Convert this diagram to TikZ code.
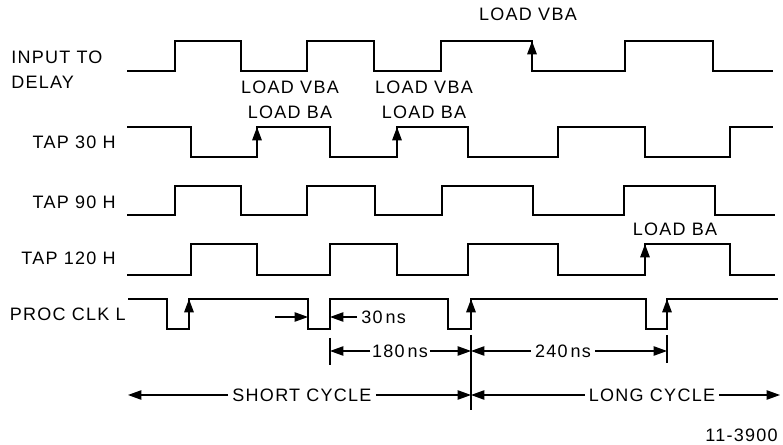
\documentclass[tikz,border=0pt]{standalone}
\usepackage{fontspec}
\setmainfont{Liberation Sans}[LetterSpace=7]
\usepackage{tikz}
\usetikzlibrary{arrows.meta, positioning}
\tikzstyle{signal} = [line width=1.4pt, line join=miter]
\tikzstyle{siglabel} = [anchor=east, inner sep=0pt, font=\fontsize{13.5}{18.75}\selectfont]
\tikzstyle{note} = [inner sep=3pt, font=\fontsize{13.5}{15}\selectfont]
\tikzstyle{edge} = [line width=1.4pt, -{Triangle[length=10pt, width=7pt]}]
\tikzstyle{dim} = [line width=0.9pt, -{Triangle[length=10pt, width=7pt]}]
\tikzstyle{tick} = [line width=0.9pt]

\begin{document}
\begin{tikzpicture}[x=0.75pt, y=-0.75pt]
\useasboundingbox (0,0) rectangle (783,445);

\node (input) [siglabel, anchor=west, align=left] at (11,70) {INPUT TO\\DELAY};
\node (tap30) [siglabel] at (116,142) {TAP 30 H};
\node (tap90) [siglabel] at (116,202) {TAP 90 H};
\node (tap120) [siglabel] at (116,258) {TAP 120 H};
\node (clk) [siglabel] at (126,314) {PROC CLK L};

\draw [signal] (127,71) -| (175,41) -| (241,71) -| (307,41) -| (374,71) -| (441,41) -| (532,71) -| (625,41) -| (713,71) -- (773,71);
\draw [signal] (127,127) -| (191,157) -| (257,127) -| (330,157) -| (397,127) -| (468,157) -| (558,127) -| (645,157) -| (730,127) -- (773,127);
\draw [signal] (127,215) -| (175,186) -| (241,215) -| (307,186) -| (375,215) -| (442,186) -| (533,215) -| (624,186) -| (715,215) -- (775,215);
\draw [signal] (127,275) -| (191,244) -| (257,275) -| (330,244) -| (397,275) -| (468,244) -| (558,275) -| (645,244) -| (730,275) -- (775,275);
\draw [signal] (128,299) -| (167,329) -| (189,299) -| (308,329) -| (330,299) -| (448,329) -| (471,299) -| (646,329) -| (667,299) -- (778,299);

\draw [edge] (532,71) -- (532,41);
\draw [edge] (257,157) -- (257,127);
\draw [edge] (397,157) -- (397,127);
\draw [edge] (645,275) -- (645,244);
\draw [edge] (189,329) -- (189,299);
\draw [edge] (471,329) -- (471,299);
\draw [edge] (667,329) -- (667,299);

\node (ldvba) [note] at (528,14) {LOAD VBA};
\node (ld1) [note, align=center, font=\fontsize{13.5}{18.75}\selectfont] at (290,100) {LOAD VBA\\LOAD BA};
\node (ld2) [note, align=center, font=\fontsize{13.5}{18.75}\selectfont] at (424,100) {LOAD VBA\\LOAD BA};
\node (ldba) [note] at (675,229) {LOAD BA};

\coordinate (fall) at (308,317);
\coordinate (rise) at (330,317);
\coordinate (pre) at (275,317);
\node (ns30) [note, anchor=west] at (357,317) {30\,ns};
\draw [dim] (pre) -- (fall);
\draw [dim] (ns30.west) -- (rise);

\draw [tick] (330,338) -- (330,365);
\draw [tick] (471,335) -- (471,410);
\draw [tick] (667,335) -- (667,363);

\node (ns180) [note, inner sep=1pt] at (400,351) {180\,ns};
\draw [dim] (ns180.west) -- (330,351);
\draw [dim] (ns180.east) -- (471,351);
\node (ns240) [note] at (563,351) {240\,ns};
\draw [dim] (ns240.west) -- (471,351);
\draw [dim] (ns240.east) -- (667,351);

\node (short) [note] at (302,395) {SHORT CYCLE};
\draw [dim] (short.west) -- (128,395);
\draw [dim] (short.east) -- (471,395);
\node (long) [note] at (652,395) {LONG CYCLE};
\draw [dim] (long.west) -- (471,395);
\draw [dim] (long.east) -- (780,395);

\node (fignum) [note, anchor=east] at (782,435) {11-3900};
\end{tikzpicture}
\end{document}
